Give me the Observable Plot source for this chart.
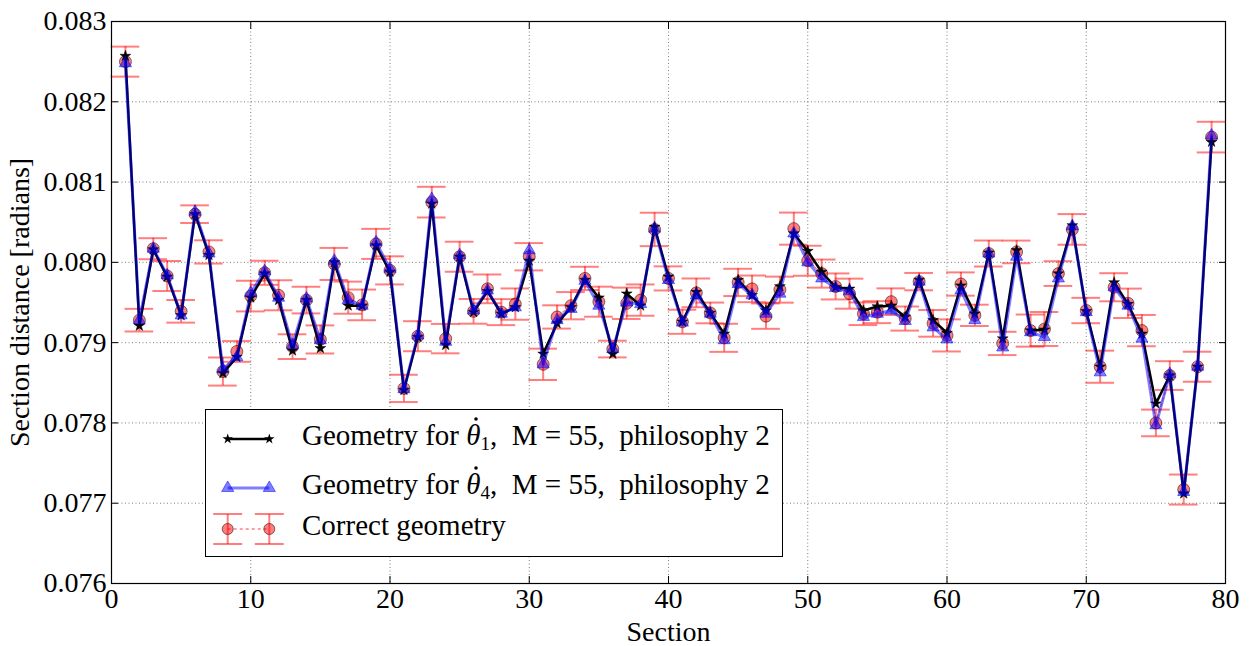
<!DOCTYPE html>
<html><head><meta charset="utf-8">
<script src="https://cdn.jsdelivr.net/npm/d3@7"></script>
<script src="https://cdn.jsdelivr.net/npm/@observablehq/plot@0.6"></script>
<style>
body{margin:0;background:#fff;}
#wrap{position:relative;width:1252px;height:646px;font-family:'Liberation Serif','DejaVu Serif',serif;}
#legend{position:absolute;left:205px;top:409px;width:578px;height:148px;border:1px solid #000;background:#fff;box-sizing:border-box;}
#legend svg.handles{position:absolute;left:0;top:0;}
.row{position:absolute;left:96px;font-size:29px;line-height:29px;white-space:nowrap;color:#000;font-family:'Liberation Serif','DejaVu Serif',serif;}
.row sub{font-size:19px;vertical-align:-5px;line-height:0;}
.th{position:relative;display:inline-block;}
#legend .th svg.dot{position:absolute;left:8px;top:-4px;width:4px;height:4px;}
</style></head><body><div id="wrap"></div>
<script>
const sections = [1,2,3,4,5,6,7,8,9,10,11,12,13,14,15,16,17,18,19,20,21,22,23,24,25,26,27,28,29,30,31,32,33,34,35,36,37,38,39,40,41,42,43,44,45,46,47,48,49,50,51,52,53,54,55,56,57,58,59,60,61,62,63,64,65,66,67,68,69,70,71,72,73,74,75,76,77,78,79];
const theta1 = [0.08257,0.07921,0.08016,0.07982,0.07934,0.08060,0.08009,0.07862,0.07882,0.07956,
0.07986,0.07953,0.07890,0.07953,0.07893,0.08000,0.07946,0.07946,0.08021,0.07988,
0.07841,0.07907,0.08073,0.07897,0.08007,0.07938,0.07964,0.07936,0.07944,0.08002,
0.07886,0.07924,0.07944,0.07978,0.07956,0.07886,0.07961,0.07946,0.08044,0.07982,
0.07926,0.07963,0.07937,0.07911,0.07978,0.07959,0.07940,0.07970,0.08036,0.08014,
0.07988,0.07969,0.07967,0.07940,0.07945,0.07946,0.07932,0.07978,0.07928,0.07912,
0.07971,0.07936,0.08012,0.07905,0.08015,0.07915,0.07916,0.07986,0.08046,0.07939,
0.07870,0.07975,0.07948,0.07911,0.07824,0.07859,0.07712,0.07870,0.08150];
const theta4 = [0.08248,0.07928,0.08017,0.07984,0.07934,0.08063,0.08011,0.07867,0.07882,0.07962,
0.07989,0.07956,0.07897,0.07955,0.07903,0.08002,0.07953,0.07946,0.08025,0.07992,
0.07842,0.07909,0.08079,0.07901,0.08009,0.07940,0.07965,0.07936,0.07944,0.08015,
0.07873,0.07928,0.07942,0.07977,0.07946,0.07892,0.07950,0.07948,0.08042,0.07978,
0.07925,0.07959,0.07936,0.07903,0.07973,0.07959,0.07936,0.07961,0.08036,0.08000,
0.07980,0.07968,0.07964,0.07932,0.07936,0.07940,0.07927,0.07976,0.07919,0.07904,
0.07965,0.07928,0.08011,0.07894,0.08007,0.07913,0.07907,0.07980,0.08045,0.07938,
0.07863,0.07969,0.07946,0.07905,0.07797,0.07861,0.07714,0.07870,0.08158];
const correct = [0.08250,0.07928,0.08017,0.07983,0.07939,0.08060,0.08013,0.07864,0.07889,0.07958,
0.07987,0.07959,0.07895,0.07953,0.07904,0.07998,0.07956,0.07947,0.08023,0.07990,
0.07843,0.07908,0.08075,0.07905,0.08007,0.07939,0.07967,0.07938,0.07948,0.08007,
0.07873,0.07932,0.07946,0.07980,0.07951,0.07892,0.07949,0.07953,0.08041,0.07980,
0.07926,0.07962,0.07937,0.07906,0.07975,0.07967,0.07933,0.07966,0.08042,0.08002,
0.07986,0.07970,0.07961,0.07936,0.07938,0.07951,0.07930,0.07976,0.07924,0.07909,
0.07973,0.07934,0.08011,0.07899,0.08013,0.07915,0.07917,0.07986,0.08041,0.07940,
0.07870,0.07969,0.07949,0.07915,0.07800,0.07859,0.07717,0.07870,0.08156];
const correctErr = [0.000187,0.000141,0.000131,0.000187,0.000141,0.000110,0.000145,0.000175,0.000129,0.000191,
0.000150,0.000187,0.000154,0.000166,0.000175,0.000200,0.000200,0.000191,0.000187,0.000175,
0.000170,0.000187,0.000191,0.000183,0.000187,0.000154,0.000179,0.000162,0.000195,0.000170,
0.000195,0.000145,0.000170,0.000145,0.000187,0.000104,0.000195,0.000195,0.000208,0.000150,
0.000150,0.000179,0.000129,0.000175,0.000170,0.000166,0.000158,0.000162,0.000200,0.000187,
0.000175,0.000162,0.000187,0.000141,0.000137,0.000166,0.000150,0.000108,0.000166,0.000200,
0.000145,0.000133,0.000162,0.000145,0.000141,0.000200,0.000212,0.000154,0.000191,0.000158,
0.000200,0.000175,0.000183,0.000195,0.000166,0.000179,0.000187,0.000187,0.000191];
const xTicks = [0,10,20,30,40,50,60,70,80];
const yTicks = [0.076,0.077,0.078,0.079,0.080,0.081,0.082,0.083];
const seriesLabels = ["Geometry for", "Geometry for", "Correct geometry"];

const rows = sections.map((s,i)=>({s, t1: theta1[i], t4: theta4[i], c: correct[i], e: correctErr[i]}));
const capHalf = 1.03;
const font = "'Liberation Serif', 'DejaVu Serif', serif";

const chart = Plot.plot({
  width:1252, height:646, marginLeft:111, marginRight:27, marginTop:21, marginBottom:63,
  style:{fontFamily:font, fontSize:"28px", background:"white", color:"black", overflow:"visible"},
  x:{domain:[0,80]},
  y:{domain:[0.076,0.083]},
  marks:[
    Plot.gridX(xTicks,{stroke:"#000", strokeOpacity:0.5, strokeDasharray:"1,2.5"}),
    Plot.gridY(yTicks,{stroke:"#000", strokeOpacity:0.5, strokeDasharray:"1,2.5"}),
    Plot.ruleX(rows,{x:"s", y1:d=>d.c-d.e, y2:d=>d.c+d.e, stroke:"red", strokeOpacity:0.5, strokeWidth:2}),
    Plot.ruleY(rows,{y:d=>d.c-d.e, x1:d=>d.s-capHalf, x2:d=>d.s+capHalf, stroke:"red", strokeOpacity:0.5, strokeWidth:2}),
    Plot.ruleY(rows,{y:d=>d.c+d.e, x1:d=>d.s-capHalf, x2:d=>d.s+capHalf, stroke:"red", strokeOpacity:0.5, strokeWidth:2}),
    Plot.line(rows,{x:"s", y:"c", stroke:"red", strokeOpacity:0.5, strokeWidth:1.5, strokeDasharray:"3,3"}),
    Plot.dot(rows,{x:"s", y:"c", r:6, fill:"red", fillOpacity:0.5, stroke:"#000", strokeOpacity:0.5, strokeWidth:1}),
    Plot.line(rows,{x:"s", y:"t1", stroke:"black", strokeWidth:2.5}),
    Plot.dot(rows,{x:"s", y:"t1", symbol:"star", r:3.4, fill:"black", stroke:"black", strokeWidth:0.5}),
    Plot.line(rows,{x:"s", y:"t4", stroke:"blue", strokeOpacity:0.5, strokeWidth:3}),
    Plot.dot(rows,{x:"s", y:"t4", symbol:"triangle", r:4.5, fill:"blue", fillOpacity:0.5, stroke:"blue", strokeOpacity:0.5, strokeWidth:1}),
    Plot.frame({stroke:"black", strokeWidth:1.2}),
    Plot.axisX(xTicks,{anchor:"bottom", tickSize:-7, tickPadding:12, tickFormat:d=>String(d), label:"Section", labelAnchor:"center", labelArrow:"none", labelOffset:57}),
    Plot.axisX(xTicks,{anchor:"top", tickSize:-7, tickFormat:()=>"", label:null}),
    Plot.axisY(yTicks,{anchor:"left", tickSize:-7, tickPadding:12, tickFormat:d3.format(".3f"), label:"Section distance [radians]", labelAnchor:"center", labelArrow:"none", labelOffset:102}),
    Plot.axisY(yTicks,{anchor:"right", tickSize:-7, tickFormat:()=>"", label:null})
  ]
});
const wrap = document.getElementById("wrap");
wrap.appendChild(chart);

// legend
const leg = document.createElement("div");
leg.id = "legend";
wrap.appendChild(leg);
const rowY = [29, 78, 119];
const hx = [21.7, 63.3];
const svg = d3.select(leg).append("svg").attr("class","handles").attr("width",578).attr("height",148);
svg.append("line").attr("x1",hx[0]).attr("x2",hx[1]).attr("y1",rowY[0]).attr("y2",rowY[0]).attr("stroke","black").attr("stroke-width",2.5);
hx.forEach(x=>svg.append("path").attr("d",d3.symbol(d3.symbolStar, 34)()).attr("transform",`translate(${x},${rowY[0]})`).attr("fill","black"));
svg.append("line").attr("x1",hx[0]).attr("x2",hx[1]).attr("y1",rowY[1]).attr("y2",rowY[1]).attr("stroke","blue").attr("stroke-opacity",0.5).attr("stroke-width",3);
hx.forEach(x=>svg.append("path").attr("d",d3.symbol(d3.symbolTriangle, 64)()).attr("transform",`translate(${x},${rowY[1]})`).attr("fill","blue").attr("fill-opacity",0.5).attr("stroke","blue").attr("stroke-opacity",0.5));
svg.append("line").attr("x1",hx[0]).attr("x2",hx[1]).attr("y1",rowY[2]).attr("y2",rowY[2]).attr("stroke","red").attr("stroke-opacity",0.5).attr("stroke-width",1.5).attr("stroke-dasharray","3,3");
hx.forEach(x=>{
  svg.append("line").attr("x1",x).attr("x2",x).attr("y1",rowY[2]-15).attr("y2",rowY[2]+15).attr("stroke","red").attr("stroke-opacity",0.5).attr("stroke-width",2);
  [-15,15].forEach(dy=>svg.append("line").attr("x1",x-14.5).attr("x2",x+14.5).attr("y1",rowY[2]+dy).attr("y2",rowY[2]+dy).attr("stroke","red").attr("stroke-opacity",0.5).attr("stroke-width",2));
  svg.append("circle").attr("cx",x).attr("cy",rowY[2]).attr("r",5.5).attr("fill","red").attr("fill-opacity",0.5).attr("stroke","#000").attr("stroke-opacity",0.5);
});
const theta = '<span class="th"><i>θ</i><svg class="dot" viewBox="0 0 4 4"><circle cx="2" cy="2" r="1.8" fill="#000"/></svg></span>';
const texts = [
  `${seriesLabels[0]} ${theta}<sub>1</sub>,&nbsp; M = 55,&nbsp; philosophy 2`,
  `${seriesLabels[1]} ${theta}<sub>4</sub>,&nbsp; M = 55,&nbsp; philosophy 2`,
  `${seriesLabels[2]}`
];
texts.forEach((t,i)=>{
  const d = document.createElement("div");
  d.className = "row";
  d.style.top = (rowY[i]-18)+"px";
  d.innerHTML = t;
  leg.appendChild(d);
});
</script></body></html>
